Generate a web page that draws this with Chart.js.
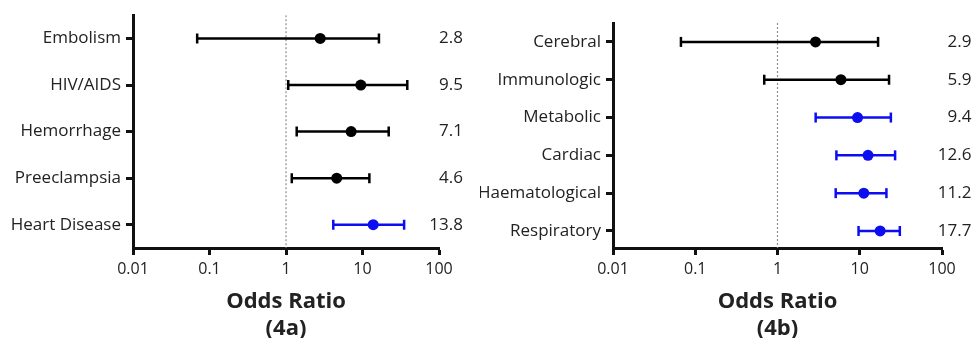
<!DOCTYPE html>
<html>
<head>
<meta charset="utf-8">
<script src="https://cdn.jsdelivr.net/npm/chart.js@4"></script>
<style>
  body { margin: 0; background: #fff; }
  #wrap { position: relative; width: 975px; height: 338px; }
  #chart-4a { position: absolute; left: 0; top: 0; }
  #chart-4b { position: absolute; left: 480px; top: 0; }
</style>
</head>
<body>
<div id="wrap">
  <canvas id="chart-4a" width="480" height="338"></canvas>
  <canvas id="chart-4b" width="495" height="338"></canvas>
</div>
<script>
// 4a - causes
const causesA = ['Embolism', 'HIV/AIDS', 'Hemorrhage', 'Preeclampsia', 'Heart Disease'];
const oddsA = [2.8, 9.5, 7.1, 4.6, 13.8];
const lowerA = [0.069, 1.07, 1.38, 1.19, 4.15];
const upperA = [16.4, 38.5, 22, 12.3, 35];
const highlightA = ['Heart Disease'];

// 4b - organ systems
const causesB = ['Cerebral', 'Immunologic', 'Metabolic', 'Cardiac', 'Haematological', 'Respiratory'];
const oddsB = [2.9, 5.9, 9.4, 12.6, 11.2, 17.7];
const lowerB = [0.067, 0.69, 2.91, 5.2, 5.1, 9.67];
const upperB = [16.7, 22.7, 23.9, 26.9, 21.1, 30.7];
const highlightB = ['Metabolic', 'Cardiac', 'Haematological', 'Respiratory'];

const xTicks = [0.01, 0.1, 1, 10, 100];

const FONT = '"Open Sans", sans-serif';
const TEXT = '#222';
const AXIS = '#111';
const BLACK = '#000';
const BLUE = '#0d0df2';

Chart.defaults.font.family = FONT;
Chart.defaults.color = TEXT;

function renderForest(canvasId, cats, odds, lower, upper, highlight, geo) {
    const yMin = -0.5;
    const colors = cats.map(c => highlight.includes(c) ? BLUE : BLACK);
    const valueLabels = odds.map(v => v.toFixed(1));

    const datasets = [];
    // dotted line at OR = 1
    datasets.push({
        data: [{x: 1, y: yMin}, {x: 1, y: geo.yMax}],
        showLine: true,
        borderColor: '#8f8f8f',
        borderWidth: 1.2,
        borderDash: [2, 2],
        pointRadius: 0,
        order: 3
    });
    // confidence intervals
    cats.forEach((c, i) => {
        datasets.push({
            data: [{x: lower[i], y: i}, {x: upper[i], y: i}],
            showLine: true,
            borderColor: colors[i],
            borderWidth: 2.5,
            pointStyle: 'line',
            rotation: 90,
            pointRadius: 5,
            pointBorderWidth: 2.5,
            pointBorderColor: colors[i],
            order: 2
        });
    });
    // point estimates
    datasets.push({
        data: odds.map((v, i) => ({x: v, y: i})),
        showLine: false,
        pointRadius: 5.5,
        pointBackgroundColor: colors,
        pointBorderColor: colors,
        pointBorderWidth: 0,
        order: 1
    });

    const catTicks = s => { s.ticks = cats.map((c, i) => ({value: i})); };

    new Chart(document.getElementById(canvasId), {
        type: 'scatter',
        data: {datasets: datasets},
        options: {
            responsive: false,
            animation: false,
            layout: {padding: {left: 0, right: 0, top: geo.top, bottom: 0}},
            plugins: {legend: {display: false}, tooltip: {enabled: false}},
            scales: {
                x: {
                    type: 'logarithmic',
                    min: 0.01,
                    max: 100,
                    afterBuildTicks: s => { s.ticks = xTicks.map(v => ({value: v})); },
                    afterFit: s => { s.height = 90; },
                    ticks: {
                        callback: v => String(v),
                        font: {size: 16},
                        color: TEXT,
                        padding: 5,
                        autoSkip: false,
                        maxRotation: 0
                    },
                    grid: {drawOnChartArea: false, tickLength: 7, tickWidth: 3, tickColor: AXIS},
                    border: {color: AXIS, width: 3},
                    title: {
                        display: true,
                        text: ['Odds Ratio', geo.title],
                        font: {size: 22, weight: 'bold', lineHeight: 1.22},
                        color: TEXT,
                        padding: {top: 0, bottom: -4}
                    }
                },
                y: {
                    type: 'linear',
                    position: 'left',
                    min: yMin,
                    max: geo.yMax,
                    reverse: true,
                    afterBuildTicks: catTicks,
                    afterFit: s => { s.width = geo.leftWidth; },
                    ticks: {
                        callback: v => cats[v],
                        font: {size: 17},
                        color: TEXT,
                        padding: 5,
                        autoSkip: false
                    },
                    grid: {drawOnChartArea: false, tickLength: 7, tickWidth: 3, tickColor: AXIS},
                    border: {color: AXIS, width: 3}
                },
                y2: {
                    type: 'linear',
                    position: 'right',
                    min: yMin,
                    max: geo.yMax,
                    reverse: true,
                    afterBuildTicks: catTicks,
                    afterFit: s => {
                        s.width = geo.rightWidth;
                        s.paddingTop = 0;
                        s.paddingBottom = 0;
                    },
                    ticks: {
                        callback: v => valueLabels[v],
                        font: {size: 17},
                        color: TEXT,
                        mirror: true,
                        padding: geo.valueRight,
                        autoSkip: false
                    },
                    grid: {display: false, drawTicks: false},
                    border: {display: false}
                }
            }
        }
    });
}

renderForest('chart-4a', causesA, oddsA, lowerA, upperA, highlightA,
    {top: 13, yMax: 4.5, leftWidth: 133, rightWidth: 41, valueRight: 24, title: '(4a)'});
renderForest('chart-4b', causesB, oddsB, lowerB, upperB, highlightB,
    {top: 23, yMax: 5.45, leftWidth: 133, rightWidth: 33, valueRight: 29.5, title: '(4b)'});
</script>
</body>
</html>
